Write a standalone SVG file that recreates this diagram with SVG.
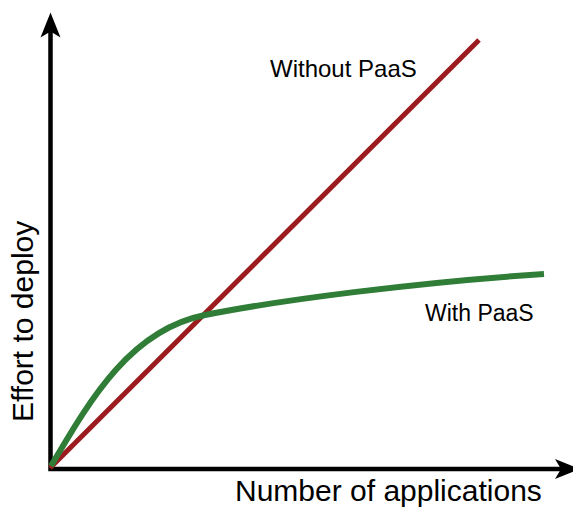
<svg xmlns="http://www.w3.org/2000/svg" width="573" height="509" viewBox="0 0 573 509">
  <style>
    .axis { fill: none; stroke: #000; stroke-width: 4.5; stroke-linejoin: miter; }
    .curve { fill: none; stroke-linecap: butt; }
    .without { stroke: #9b1b1e; stroke-width: 5; }
    .with { stroke: #2f7d37; stroke-width: 6; }
    .label { font-family: "Liberation Sans", Arial, sans-serif; fill: #000; }
    .axis-title { font-size: 30px; }
    .series-label { font-size: 24px; }
    .series-label.short { font-size: 23px; }
  </style>
  <defs>
    <marker id="axis-head" markerUnits="userSpaceOnUse" viewBox="-8 -11 27 22" refX="0" refY="0" markerWidth="27" markerHeight="22" orient="auto-start-reverse" overflow="visible">
      <path d="M18,0 L-7,-10 L-1,0 L-7,10 Z" fill="#000"/>
    </marker>
  </defs>

  <rect width="573" height="509" fill="#fff"/>

  <!-- axes -->
  <g id="axes">
    <path class="axis" d="M50.5,30.5 L50.5,469 L562,469" marker-start="url(#axis-head)" marker-end="url(#axis-head)"/>
  </g>

  <!-- plotted series -->
  <g id="connectors">
    <path id="without-paas-line" class="curve without" d="M50,468 L479,40"/>
    <path id="with-paas-curve" class="curve with" d="M51,466 C90,400 130,330 205,315 C280,300 420,282 544,274"/>
  </g>

  <g id="label-without-paas">
    <text class="label series-label" x="270" y="77">Without PaaS</text>
  </g>
  <g id="label-with-paas">
    <text class="label series-label short" x="425" y="321">With PaaS</text>
  </g>
  <g id="x-axis-title">
    <text class="label axis-title" x="235" y="501">Number of applications</text>
  </g>
  <g id="y-axis-title">
    <text class="label axis-title" transform="translate(33,422) rotate(-90)">Effort to deploy</text>
  </g>
</svg>
